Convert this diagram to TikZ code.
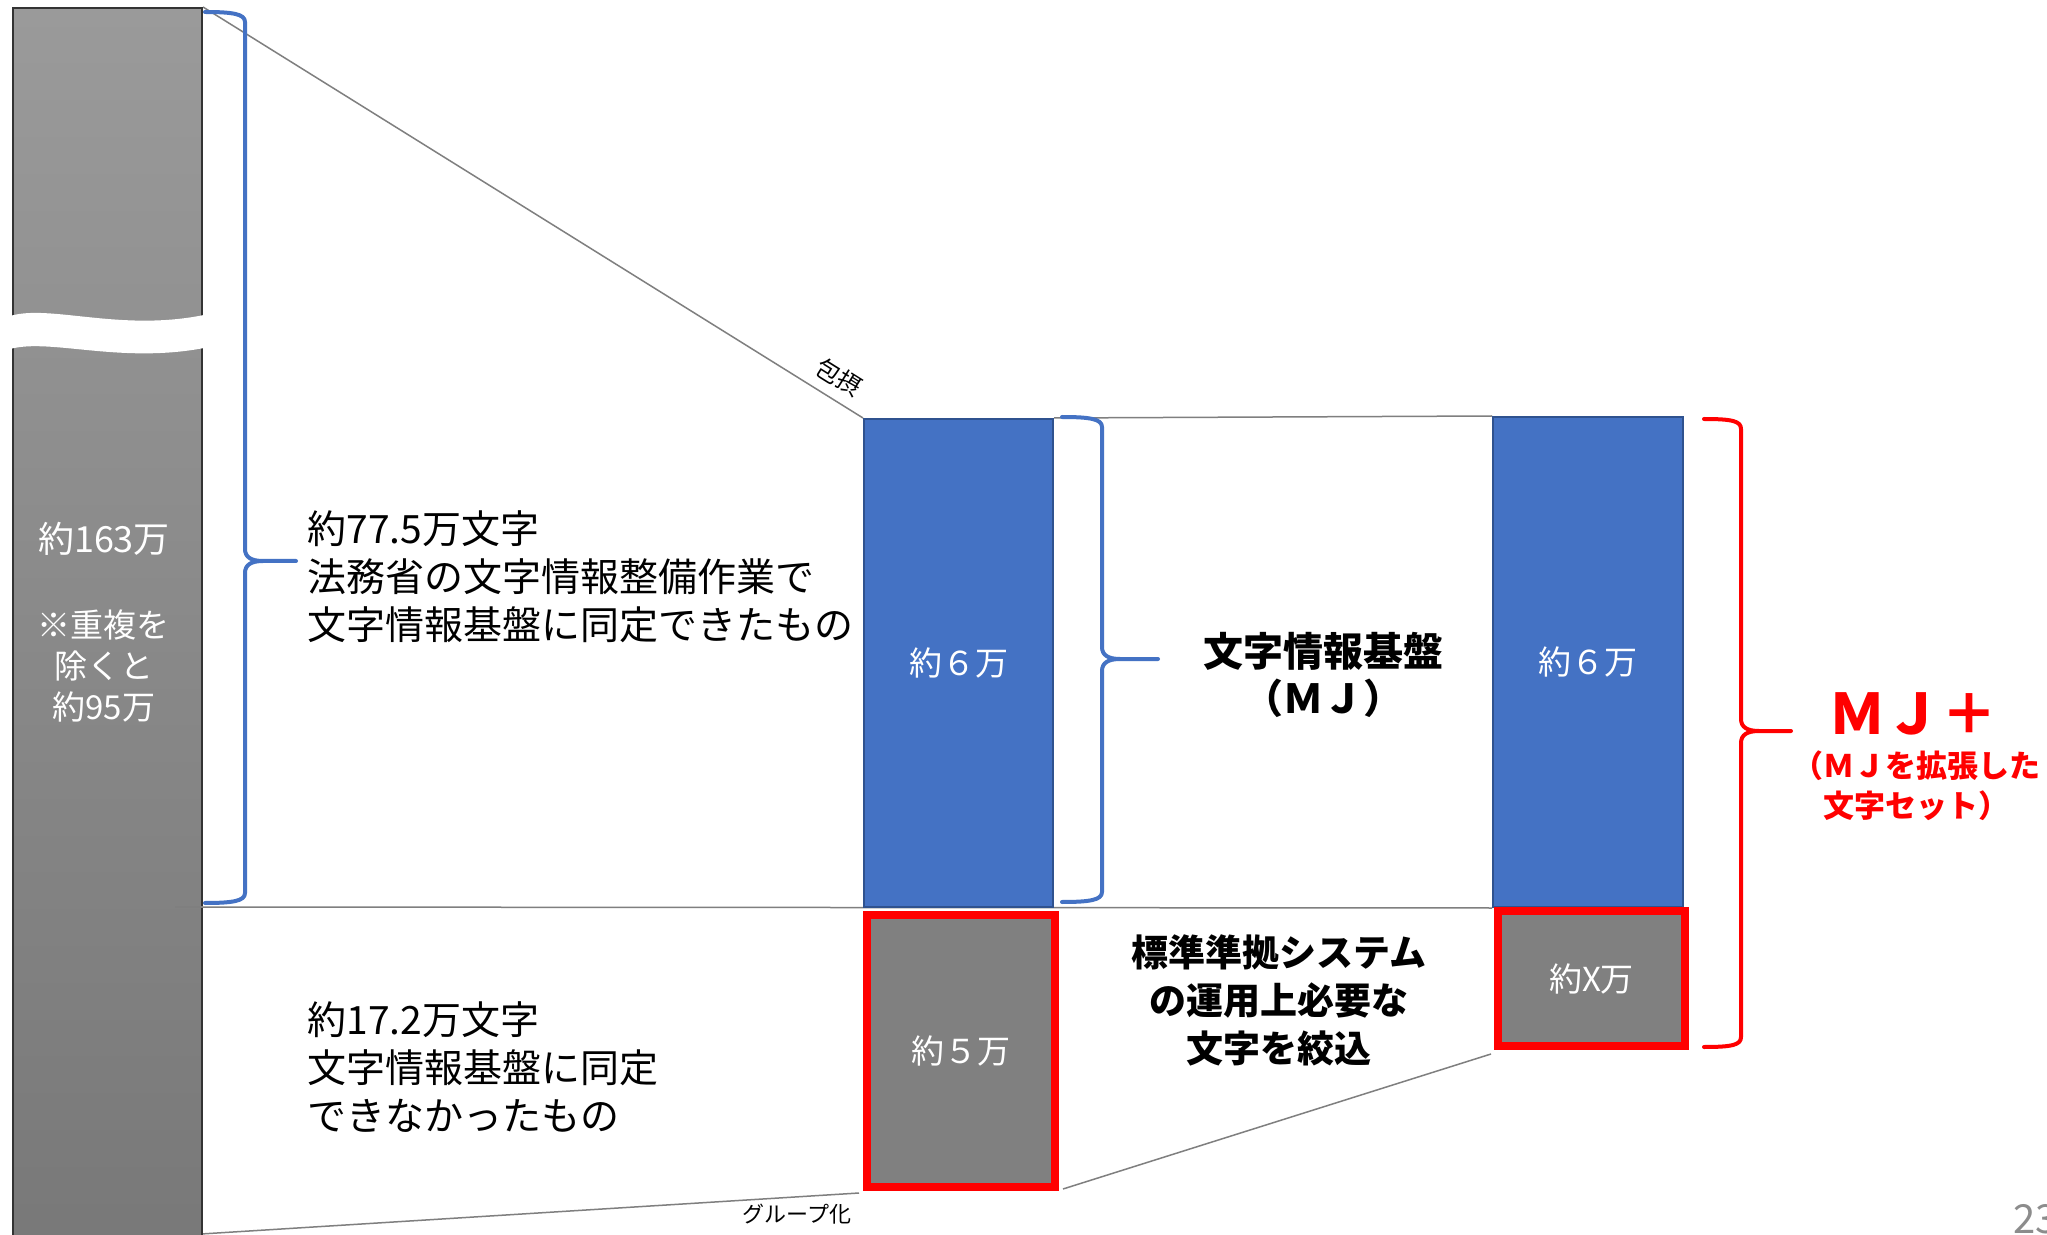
\documentclass[tikz,border=0pt]{standalone}
\usepackage{fontspec}
\setmainfont{Noto Sans CJK JP}
\usetikzlibrary{calc}
\pgfdeclarelayer{background}
\pgfsetlayers{background,main}
\definecolor{mjblue}{HTML}{4472C4}
\definecolor{mjborder}{HTML}{2F528F}
\definecolor{mjred}{HTML}{FF0000}
\definecolor{linegray}{HTML}{7F7F7F}
\definecolor{boxgray}{HTML}{808080}
\definecolor{bartop}{HTML}{9A9A9A}
\definecolor{barbot}{HTML}{787878}
\newcommand\mybrace[7]{%
  \draw[#1] (#2,#5) .. controls +(28,0) and +(0,-8) .. ({#3},{#5+10})
    -- ({#3},{#6-12}) .. controls +(0,8) and +(-12,0) .. ({#3+18},{#6}) -- (#4,#6)
    -- ({#3+18},{#6}) .. controls +(-12,0) and +(0,-8) .. ({#3},{#6+12})
    -- ({#3},{#7-10}) .. controls +(0,8) and +(28,0) .. (#2,#7);}
\newcommand\fs[2]{\fontsize{#1}{#2}\selectfont}
\begin{document}
\begin{tikzpicture}[x=0.5pt,y=-0.5pt,
  conn/.style={draw=linegray,line width=0.75pt},
  bluebox/.style={draw=mjborder,fill=mjblue,line width=1pt,anchor=north west,inner sep=0pt,text=white,font=\fs{16.5}{20}},
  redbox/.style={draw=mjred,fill=boxgray,line width=4pt,anchor=north west,inner sep=0pt,text=white,font=\fs{16.5}{20}},
  bluebrace/.style={draw=mjblue,line width=2pt,line cap=round,line join=round},
  redbrace/.style={draw=mjred,line width=2pt,line cap=round,line join=round},
  lbl/.style={inner sep=0pt,align=left,anchor=west,font=\fs{19.5}{24}},
  boldlbl/.style={inner sep=0pt,align=center,font=\bfseries\fs{20}{23.5}}
]
\useasboundingbox (0,0) rectangle (2047,1235);
\clip (0,0) rectangle (2047,1235);
\begin{pgfonlayer}{background}
\fill[white] (0,0) rectangle (2047,1235);
\end{pgfonlayer}

% left tall bar
\node (bar) [draw=black!80,line width=1pt,top color=bartop,bottom color=barbot,anchor=north west,inner sep=0pt,minimum width=94.5pt,minimum height=625pt] at (12,7) {};
\fill[white] (10,316) .. controls (50,304) and (120,332) .. (204,315)
  -- (204,348) .. controls (120,364) and (50,338) .. (10,349) -- cycle;
\node (t163) [text=white,inner sep=0pt,font=\fs{18}{22}] at (104,539) {約163万};
\node (tnote) [text=white,inner sep=0pt,align=center,font=\fs{16.5}{20.5}] at (104,666) {※重複を\\除くと\\約95万};

% coordinates for free ends
\coordinate (barbotright) at (201,1234);
\coordinate (hstart) at (175,907);

% boxes
\node (mj1) [bluebox,minimum width=94.5pt,minimum height=244pt] at (863,418) {約６万};
\node (red1) [redbox,minimum width=94pt,minimum height=136pt] at (863,911) {約５万};
\node (mj2) [bluebox,minimum width=95pt,minimum height=245pt] at (1492,416) {約６万};
\node (red2) [redbox,minimum width=93.5pt,minimum height=67.5pt] at (1494,907) {約X万};

% connectors
\begin{pgfonlayer}{background}
\draw[conn] (bar.north east) -- (mj1.north west);
\draw[conn] (mj1.north east) -- (mj2.north west);
\draw[conn] (hstart) -- (mj2.south west);
\draw[conn] (barbotright) -- ($(red1.south west)+(-4,2)$);
\draw[conn] ($(red1.south east)+(4,-2)$) -- ($(red2.south west)+(-3,4)$);
\end{pgfonlayer}
\draw[conn] (hstart) -- (bar.east |- hstart);

% braces
\mybrace{bluebrace}{205}{245}{296}{12}{561}{903}
\mybrace{bluebrace}{1062}{1102}{1158}{417}{659}{902}
\mybrace{redbrace}{1704}{1741}{1791}{419}{731}{1047}

% labels
\node (t775) [lbl] at (307,577) {約77.5万文字\\法務省の文字情報整備作業で\\文字情報基盤に同定できたもの};
\node (t172) [lbl] at (307,1067) {約17.2万文字\\文字情報基盤に同定\\できなかったもの};
\node (house) [inner sep=0pt,rotate=-32,font=\fs{12}{14}] at (839,377) {包摂};
\node (group) [inner sep=0pt,font=\fs{11}{13}] at (797,1214) {グループ化};
\node (mjlbl) [boldlbl] at (1323,675) {文字情報基盤\\（ＭＪ）};
\node (sel) [boldlbl,font=\bfseries\fs{18.5}{24}] at (1279,1000) {標準準拠システム\\の運用上必要な\\文字を絞込};
\node (mjplus) [inner sep=0pt,text=mjred,font=\bfseries\fs{28}{30}] at (1913,714) {ＭＪ＋};
\node (mjpsub) [inner sep=0pt,align=center,text=mjred,font=\bfseries\fs{15.5}{20}] at (1916,786) {（ＭＪを拡張した\\文字セット）};
\node (page) [inner sep=0pt,anchor=north west,text=black!45,font=\fs{20}{24}] at (2013,1204) {23};
\end{tikzpicture}
\end{document}
